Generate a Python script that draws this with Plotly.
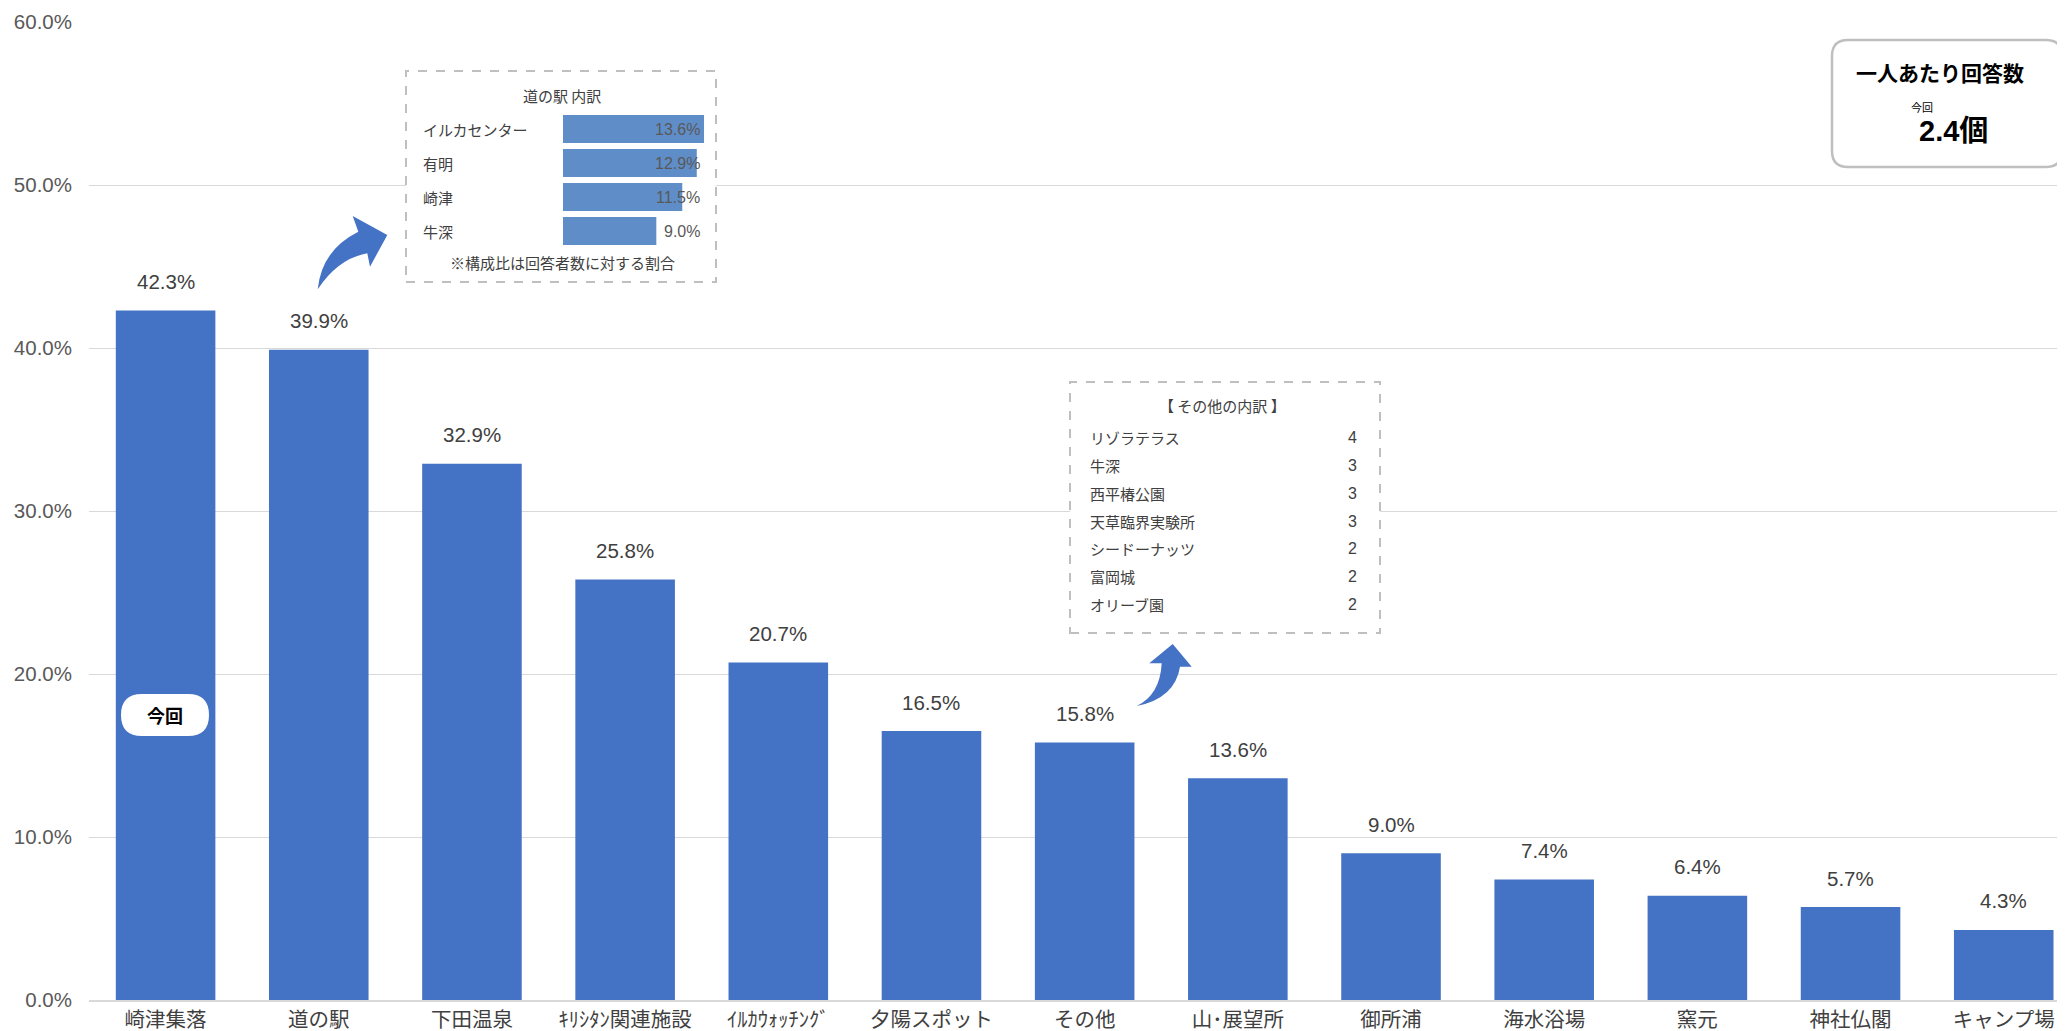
import plotly.graph_objects as go

# ---------------- data ----------------
categories = ["崎津集落", "道の駅", "下田温泉", "ｷﾘｼﾀﾝ関連施設", "ｲﾙｶｳｫｯﾁﾝｸﾞ", "夕陽スポット",
              "その他", "山･展望所", "御所浦", "海水浴場", "窯元", "神社仏閣", "キャンプ場"]
values = [42.3, 39.9, 32.9, 25.8, 20.7, 16.5, 15.8, 13.6, 9.0, 7.4, 6.4, 5.7, 4.3]
y_ticks = [0, 10, 20, 30, 40, 50, 60]

michi_cats = ["イルカセンター", "有明", "崎津", "牛深"]
michi_vals = [13.6, 12.9, 11.5, 9.0]

other_cats = ["リゾラテラス", "牛深", "西平椿公園", "天草臨界実験所", "シードーナッツ", "富岡城", "オリーブ園"]
other_counts = [4, 3, 3, 3, 2, 2, 2]

per_person = 2.4

# ---------------- layout helpers (page pixel coords) ----------------
OFF = 8                      # default body margin of the html page
PAGE_W, PAGE_H = 2065, 1031
W, H = PAGE_W - OFF, PAGE_H
PX0, PX1, PY0, PY1 = 89, 2065, 22, 1000     # plot area in page pixels
L, T = PX0 - OFF, PY0 - OFF
R = W - (PX1 - OFF)
B = H - (PY1 - OFF)
PW, PH = PX1 - PX0, PY1 - PY0
NCAT_SPAN = 12.9
XR = [-0.5, -0.5 + NCAT_SPAN]

def pp(px, py):
    return ((px - PX0) / PW, (PY1 - py) / PH)

def pd(px, py):
    return (XR[0] + (px - PX0) / PW * NCAT_SPAN, (PY1 - py) / PH * 60)

def pstr(px, py):
    x, y = pp(px, py)
    return f"{x:.5f},{y:.5f}"

def rounded_rect(x0, y0, x1, y1, r):
    return ("M" + pstr(x0 + r, y0) + " L" + pstr(x1 - r, y0) + " Q" + pstr(x1, y0) + " " + pstr(x1, y0 + r) +
            " L" + pstr(x1, y1 - r) + " Q" + pstr(x1, y1) + " " + pstr(x1 - r, y1) +
            " L" + pstr(x0 + r, y1) + " Q" + pstr(x0, y1) + " " + pstr(x0, y1 - r) +
            " L" + pstr(x0, y0 + r) + " Q" + pstr(x0, y0) + " " + pstr(x0 + r, y0) + " Z")

JP = "Noto Sans CJK JP"
NUM = "Liberation Sans, Noto Sans CJK JP"
BLUE = "#4472C4"

fig = go.Figure()

fig.add_trace(go.Bar(x=categories, y=values, marker=dict(color=BLUE, line=dict(width=0)),
                     xaxis="x", yaxis="y", showlegend=False, hoverinfo="skip"))

fig.add_trace(go.Bar(x=michi_vals, y=michi_cats, orientation="h", width=0.82,
                     marker=dict(color="#5F8DC8", line=dict(width=0)),
                     xaxis="x2", yaxis="y2", showlegend=False, hoverinfo="skip"))

annotations = []
# bar value labels
for c, v in zip(categories, values):
    annotations.append(dict(x=c, y=v, xref="x", yref="y", text=f"{v:.1f}%", showarrow=False,
                            yanchor="middle", yshift=29,
                            font=dict(family=NUM, size=20.5, color="#404040")))

# inset 1: 道の駅 内訳
ix, iy = pp(562, 95)
annotations.append(dict(x=ix, y=iy, xref="paper", yref="paper", text="道の駅 内訳", showarrow=False,
                        xanchor="center", yanchor="middle", font=dict(family=JP, size=15, color="#404040")))
lx, _ = pp(421, 0)
for c, v in zip(michi_cats, michi_vals):
    annotations.append(dict(x=lx, y=c, xref="paper", yref="y2", text=c, showarrow=False,
                            xanchor="left", yanchor="middle", font=dict(family=JP, size=15, color="#404040")))
    annotations.append(dict(x=13.4, y=c, xref="x2", yref="y2", text=f"{v:.1f}%", showarrow=False,
                            xanchor="right", yanchor="middle", font=dict(family=NUM, size=16, color="#595959")))
nx, ny = pp(562, 262)
annotations.append(dict(x=nx, y=ny, xref="paper", yref="paper", text="※構成比は回答者数に対する割合",
                        showarrow=False, xanchor="center", yanchor="middle",
                        font=dict(family=JP, size=15, color="#404040")))

# inset 2: その他の内訳
tx, ty = pp(1222, 405)
annotations.append(dict(x=tx, y=ty, xref="paper", yref="paper", text="【 その他の内訳 】", showarrow=False,
                        xanchor="center", yanchor="middle", font=dict(family=JP, size=15, color="#404040")))
nx2, _ = pp(1359, 0)
for i, (c, n) in enumerate(zip(other_cats, other_counts)):
    rx, ry = pp(1088, 438 + i * 27.7)
    annotations.append(dict(x=rx, y=ry, xref="paper", yref="paper", text=c, showarrow=False,
                            xanchor="left", yanchor="middle", font=dict(family=JP, size=15, color="#404040")))
    annotations.append(dict(x=nx2, y=ry, xref="paper", yref="paper", text=str(n), showarrow=False,
                            xanchor="right", yanchor="middle", font=dict(family=NUM, size=16, color="#404040")))

# top-right box texts
ax, ay = pp(1940, 72)
annotations.append(dict(x=ax, y=ay, xref="paper", yref="paper", text="<b>一人あたり回答数</b>", showarrow=False,
                        xanchor="center", yanchor="middle", font=dict(family=JP, size=21, color="#000000")))
ax, ay = pp(1922, 107)
annotations.append(dict(x=ax, y=ay, xref="paper", yref="paper", text="今回", showarrow=False,
                        xanchor="center", yanchor="middle", font=dict(family=JP, size=11, color="#000000")))
ax, ay = pp(1953, 131)
annotations.append(dict(x=ax, y=ay, xref="paper", yref="paper", text=f"<b>{per_person}個</b>", showarrow=False,
                        xanchor="center", yanchor="middle", font=dict(family=NUM, size=29, color="#000000")))

# 今回 pill text
ax, ay = pp(165, 715)
annotations.append(dict(x=ax, y=ay, xref="paper", yref="paper", text="<b>今回</b>", showarrow=False,
                        xanchor="center", yanchor="middle", font=dict(family=JP, size=18, color="#000000")))

shapes = []
# dashed inset boxes (between gridlines and data)
for (x0, y0, x1, y1) in [(406, 71, 716, 282), (1070, 382, 1380, 633)]:
    a = pd(x0, y1); b = pd(x1, y0)
    shapes.append(dict(type="rect", xref="x", yref="y", x0=a[0], y0=a[1], x1=b[0], y1=b[1],
                       line=dict(color="#BFBFBF", width=2, dash="dash"), fillcolor="white", layer="between"))
# top-right rounded box
shapes.append(dict(type="path", xref="paper", yref="paper", path=rounded_rect(1832, 40, 2062, 167, 16),
                   line=dict(color="#BFBFBF", width=2.5), fillcolor="white", layer="above"))
# 今回 pill
shapes.append(dict(type="path", xref="paper", yref="paper", path=rounded_rect(121, 694, 209, 736, 21),
                   line=dict(color="white", width=0), fillcolor="white", layer="above"))
# curved arrows
arrow1 = ("M" + pstr(317.7, 289.3) + " Q" + pstr(321.7, 250) + " " + pstr(358.3, 231.7) +
          " L" + pstr(352.7, 216) + " L" + pstr(387.3, 235) + " L" + pstr(370, 266.7) +
          " L" + pstr(367.3, 253.3) + " Q" + pstr(338.3, 258.3) + " " + pstr(317.7, 289.3) + " Z")
arrow2 = ("M" + pstr(1136.7, 706) + " Q" + pstr(1175, 698.3) + " " + pstr(1180, 666.7) +
          " L" + pstr(1191.7, 666.7) + " L" + pstr(1172.7, 644) + " L" + pstr(1149.3, 663.3) +
          " L" + pstr(1161.7, 663.3) + " Q" + pstr(1160, 695) + " " + pstr(1136.7, 706) + " Z")
for p in (arrow1, arrow2):
    shapes.append(dict(type="path", xref="paper", yref="paper", path=p,
                       line=dict(width=0), fillcolor=BLUE, layer="above"))

# inset axis domains
x2a, y2a = pp(563, 248)
x2b, y2b = pp(563 + 14 * 10.37, 112)

fig.update_layout(
    width=W, height=H,
    margin=dict(l=L, r=R, t=T, b=B, pad=0),
    paper_bgcolor="white", plot_bgcolor="white",
    bargap=0.35,
    xaxis=dict(type="category", range=XR, showgrid=False, showline=True,
               linecolor="#D9D9D9", linewidth=2, ticks="", automargin=False, ticklabelstandoff=0,
               tickfont=dict(family=JP, size=20.5, color="#404040"), fixedrange=True),
    yaxis=dict(range=[0, 60], tickvals=y_ticks, ticktext=[f"{v:.1f}%" for v in y_ticks],
               showgrid=True, gridcolor="#D9D9D9", gridwidth=1.3, zeroline=False, showline=False,
               ticks="", ticklabelstandoff=16, automargin=False,
               tickfont=dict(family=NUM, size=20.5, color="#595959"), fixedrange=True),
    xaxis2=dict(domain=[x2a, x2b], range=[0, 14], anchor="y2", visible=False, showgrid=False,
                zeroline=False, fixedrange=True),
    yaxis2=dict(domain=[y2a, y2b], anchor="x2", visible=False, showgrid=False, zeroline=False,
                type="category", categoryorder="array", categoryarray=michi_cats[::-1], fixedrange=True),
    annotations=annotations,
    shapes=shapes,
)

fig.write_html("out.html")
